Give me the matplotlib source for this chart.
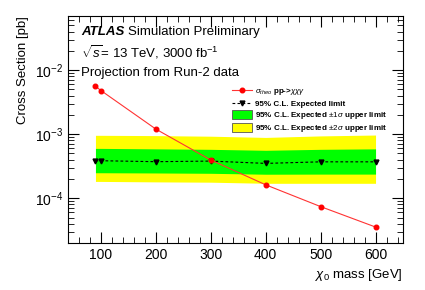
import numpy as np
import matplotlib
matplotlib.use('Agg')
import matplotlib.pyplot as plt
from matplotlib.patches import Patch
from matplotlib.lines import Line2D
from matplotlib.ticker import MultipleLocator, LogLocator, NullFormatter

plt.rcParams['font.family'] = ['Liberation Sans', 'DejaVu Sans']
plt.rcParams['mathtext.fontset'] = 'custom'
plt.rcParams['mathtext.rm'] = 'Liberation Sans'
plt.rcParams['mathtext.it'] = 'Liberation Sans:italic'

# theory cross section
mass_theo = [90, 100, 200, 300, 400, 500, 600]
xsec_theo = [5.6e-3, 4.8e-3, 1.2e-3, 3.95e-4, 1.62e-4, 7.4e-5, 3.55e-5]

# expected limit and bands
mass_lim = [90, 100, 200, 300, 400, 500, 600]
exp_lim = [3.85e-4, 3.85e-4, 3.72e-4, 3.8e-4, 3.5e-4, 3.7e-4, 3.7e-4]
band1_lo = [2.5e-4, 2.5e-4, 2.48e-4, 2.45e-4, 2.37e-4, 2.38e-4, 2.38e-4]
band1_hi = [6.0e-4, 6.0e-4, 5.9e-4, 5.8e-4, 5.6e-4, 5.8e-4, 5.9e-4]
band2_lo = [1.83e-4, 1.83e-4, 1.8e-4, 1.78e-4, 1.71e-4, 1.71e-4, 1.71e-4]
band2_hi = [9.6e-4, 9.6e-4, 9.5e-4, 9.3e-4, 8.9e-4, 9.4e-4, 9.7e-4]

fig = plt.figure(figsize=(4.25, 2.9), dpi=100)
ax = fig.add_axes([68/425, 47/290, 335/425, 227/290])

ax.fill_between(mass_lim, band2_lo, band2_hi, color='#ffff00', lw=0)
ax.fill_between(mass_lim, band1_lo, band1_hi, color='#00ff00', lw=0)
ax.plot(mass_lim, exp_lim, 'k--', lw=0.8, marker='v', ms=3.5, dashes=(2.5, 2))
ax.plot(mass_theo, xsec_theo, '-', color='#ff3333', lw=0.8, marker='o', ms=3.3,
        mfc='red', mec='red')

ax.set_yscale('log')
ax.set_xlim(40, 650)
ax.set_ylim(2.0e-5, 7e-2)

ax.xaxis.set_major_locator(MultipleLocator(100))
ax.xaxis.set_minor_locator(MultipleLocator(20))
ax.yaxis.set_major_locator(LogLocator(base=10, numticks=10))
ax.yaxis.set_minor_locator(LogLocator(base=10, subs=np.arange(2, 10), numticks=20))
ax.yaxis.set_minor_formatter(NullFormatter())
ax.tick_params(which='both', direction='in', top=True, right=True, labelsize=10)
ax.tick_params(which='major', length=8, width=0.8)
ax.tick_params(which='minor', length=4, width=0.6)
ax.set_xticks([100, 200, 300, 400, 500, 600])
ax.set_yticks([1e-4, 1e-3, 1e-2])
ax.set_yticklabels([r'$10^{-4}$', r'$10^{-3}$', r'$10^{-2}$'])
for s in ax.spines.values():
    s.set_linewidth(0.8)

ax.set_xlabel(r'$\chi_0$ mass [GeV]', fontsize=9.5, loc='right')
ax.set_ylabel('Cross Section [pb]', fontsize=9.5, loc='top')

ax.text(0.04, 0.93, 'ATLAS', transform=ax.transAxes, fontsize=9.5,
        fontweight='bold', style='italic', va='center')
ax.text(0.18, 0.93, 'Simulation Preliminary', transform=ax.transAxes,
        fontsize=9.5, va='center')
ax.text(0.04, 0.84, r'$\sqrt{s}$= 13 TeV, 3000 fb$^{-1}$', transform=ax.transAxes,
        fontsize=9.5, va='center')
ax.text(0.04, 0.75, 'Projection from Run-2 data', transform=ax.transAxes,
        fontsize=9.5, va='center')

handles = [
    Line2D([], [], color='#ff3333', lw=0.8, marker='o', ms=3.3, mfc='red', mec='red'),
    Line2D([], [], color='k', ls='--', lw=0.8, marker='v', ms=3.5, dashes=(2.5, 2)),
    Patch(facecolor='#00ff00', edgecolor='#555555', lw=0.6),
    Patch(facecolor='#ffff00', edgecolor='#555555', lw=0.6),
]
labels = [
    r'$\sigma_{theo}$ pp->$\chi\chi\gamma$',
    '95% C.L. Expected limit',
    r'95% C.L. Expected $\pm1\sigma$ upper limit',
    r'95% C.L. Expected $\pm2\sigma$ upper limit',
]
leg = ax.legend(handles, labels, loc='upper left', bbox_to_anchor=(0.48, 0.705),
                frameon=False, prop={'size': 5.8, 'weight': 'bold'},
                handlelength=2.5, handleheight=1.35, labelspacing=0.22,
                handletextpad=0.4, borderaxespad=0)

fig.savefig('out.png', dpi=100)
